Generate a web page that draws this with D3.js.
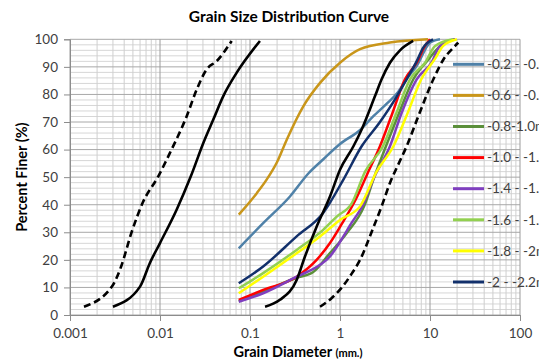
<!DOCTYPE html>
<html>
<head>
<meta charset="utf-8">
<script src="https://cdn.jsdelivr.net/npm/d3@7"></script>
<style>
  body { margin: 0; background: #fff; }
  svg { display: block; font-family: Lato, "Open Sans", sans-serif; }
</style>
</head>
<body>
<div id="chart"></div>
<script>
// grain diameter (mm) / percent finer (%) pairs
var sample02 = [[0.075,24.2],[0.14,33.3],[0.278,43],[0.45,51.5],[0.653,56.5],[1.0,62],[1.7,67.3],[2.35,72.1],[3.4,77],[4.45,81],[5.6,86],[7.1,90.3],[10,98.8],[12.9,100]];
var sample06 = [[0.075,36.4],[0.119,44.2],[0.153,49.1],[0.2,55.5],[0.256,63.6],[0.391,75.7],[0.6,84.2],[1.0,91.5],[1.67,96.4],[3.59,98.8],[9.5,100]];
var sample08 = [[0.075,5.0],[0.14,8.5],[0.33,13.5],[0.5,15.5],[0.77,22.4],[1.19,29.7],[1.85,39.4],[2.4,50],[3.24,61.2],[4.5,73],[6.53,85.5],[9.5,92.5],[13,97.6],[19,100]];
var sample10 = [[0.075,5.5],[0.14,9.1],[0.33,13.9],[0.55,20],[0.774,26.1],[1.09,34],[1.5,42],[2.0,51],[2.78,61.2],[3.8,73],[5.27,85.5],[7.12,91.5],[8.8,97.6],[10,100]];
var sample14 = [[0.075,4.8],[0.14,7.9],[0.33,13.9],[0.6,18.2],[0.77,21.2],[1.09,28.5],[1.29,32.5],[1.8,40],[2.4,50],[3.59,61.2],[4.8,73],[7.12,85.5],[10.4,91.5],[12.9,97.6],[19,100]];
var sample16 = [[0.075,9.7],[0.14,15.2],[0.33,23.6],[0.65,30.9],[0.92,35.7],[1.35,40.5],[1.9,52],[3.0,61.2],[4.2,73],[6.0,85.5],[8.8,91.5],[11.4,97.6],[18,100]];
var sample18 = [[0.075,7.9],[0.14,13.9],[0.33,22.4],[0.6,28.5],[1.0,34.5],[1.67,39.4],[2.55,52],[3.92,61.2],[5.6,73],[8.0,85.5],[11.4,93],[14,97.6],[19.9,100]];
var sample20 = [[0.075,11.5],[0.14,17.6],[0.33,28.5],[0.65,37],[1.09,49.1],[1.74,61.2],[2.78,70],[4.3,79.4],[5.5,85.5],[7.1,92],[8.4,97],[10.8,100]];

// envelope curves (black)
var leftDashed = [[0.00143,3.0],[0.0030,10.9],[0.0037,17.6],[0.0048,29.7],[0.0064,40.6],[0.00957,50.3],[0.0129,58.8],[0.0198,72.1],[0.0256,81.8],[0.033,89.1],[0.0427,92.1],[0.0626,99.4]];
var leftSolid = [[0.0030,3.0],[0.0060,10.3],[0.0077,18.8],[0.0100,26.1],[0.0153,38.2],[0.022,50.3],[0.0303,62.4],[0.0391,70.9],[0.0505,79.4],[0.0712,87.9],[0.129,99.4]];
var rightSolid = [[0.147,3.0],[0.215,5.5],[0.33,12.7],[0.408,21.2],[0.551,32.1],[0.774,43],[1.0,52.7],[1.41,61.2],[1.74,67.3],[2.45,79.4],[2.9,85.5],[3.59,91.5],[4.64,96],[6.5,99.4]];
var rightDashed = [[0.60,3.0],[0.80,6],[1.05,10],[1.35,15],[1.67,20],[2.3,31],[2.9,39.4],[3.6,48],[4.5,55],[5.5,61.2],[7.4,72],[10.9,85.5],[14,92.5],[19,97.6],[20.6,98.8]];

var seriesNames = ["-0.2 - -0.6m", "-0.6 - -0.8m", "-0.8-1.0m", "-1.0 - -1.4m", "-1.4 - -1.6m", "-1.6 - -1.8m", "-1.8 - -2m", "-2 - -2.2m"];
var seriesColors = ["#4f81a8", "#c9961a", "#5b8f3a", "#ff0000", "#7f3fbf", "#92d050", "#ffff00", "#12306b"];
var seriesData = [sample02, sample06, sample08, sample10, sample14, sample16, sample18, sample20];

var xTicks = [0.001, 0.01, 0.1, 1, 10, 100];
var xTickLabels = ["0.001", "0.01", "0.1", "1", "10", "100"];
var yTicks = [0, 10, 20, 30, 40, 50, 60, 70, 80, 90, 100];

var margin = { top: 39.3, right: 19, bottom: 46, left: 70 },
    width = 539 - margin.left - margin.right,
    height = 361 - margin.top - margin.bottom;

var x = d3.scaleLog().domain([0.001, 100]).range([0, width]);
var y = d3.scaleLinear().domain([0, 100]).range([height, 0]);

var svg = d3.select("#chart")
    .append("svg")
    .attr("width", 539)
    .attr("height", 361);

var g = svg.append("g")
    .attr("transform", "translate(" + margin.left + "," + margin.top + ")");

// minor grid
var minorX = [];
xTicks.slice(0, -1).forEach(function (d) {
    for (var k = 2; k <= 9; k++) minorX.push(d * k);
});
var minorY = d3.range(2, 100, 2).filter(function (d) { return d % 10 != 0; });

g.selectAll(".minorY").data(minorY).enter().append("line")
    .attr("x1", 0).attr("x2", width)
    .attr("y1", function (d) { return y(d); })
    .attr("y2", function (d) { return y(d); })
    .attr("stroke", "#d6d6d6");

g.selectAll(".minorX").data(minorX).enter().append("line")
    .attr("x1", function (d) { return x(d); })
    .attr("x2", function (d) { return x(d); })
    .attr("y1", 0).attr("y2", height)
    .attr("stroke", "#cfcfcf");

// major grid
g.selectAll(".majorY").data(yTicks).enter().append("line")
    .attr("x1", 0).attr("x2", width)
    .attr("y1", function (d) { return y(d); })
    .attr("y2", function (d) { return y(d); })
    .attr("stroke", "#a8a8a8");

g.selectAll(".majorX").data(xTicks).enter().append("line")
    .attr("x1", function (d) { return x(d); })
    .attr("x2", function (d) { return x(d); })
    .attr("y1", 0).attr("y2", height)
    .attr("stroke", "#9c9c9c");

// axes
var yAxis = g.append("g")
    .call(d3.axisLeft(y).tickValues(yTicks).tickSize(6).tickPadding(6));
var xAxis = g.append("g")
    .attr("transform", "translate(0," + height + ")")
    .call(d3.axisBottom(x).tickValues(xTicks).tickSize(6).tickPadding(7)
        .tickFormat(function (d, i) { return xTickLabels[i]; }));

[xAxis, yAxis].forEach(function (a) {
    a.select(".domain").attr("stroke", "#8c8c8c");
    a.selectAll(".tick line").attr("stroke", "#8c8c8c");
    a.selectAll(".tick text")
        .attr("fill", "#404040")
        .style("font-size", "13.5px")
        .style("font-family", "Lato, sans-serif");
});

var line = d3.line()
    .x(function (d) { return x(d[0]); })
    .y(function (d) { return y(d[1]); })
    .curve(d3.curveMonotoneX);

// coloured sample curves
seriesData.forEach(function (s, i) {
    g.append("path")
        .datum(s)
        .attr("fill", "none")
        .attr("stroke", seriesColors[i])
        .attr("stroke-width", 2.5)
        .attr("d", line);
});

// black envelope curves
[leftDashed, leftSolid, rightSolid, rightDashed].forEach(function (s, i) {
    g.append("path")
        .datum(s)
        .attr("fill", "none")
        .attr("stroke", "#000")
        .attr("stroke-width", 2.6)
        .attr("stroke-dasharray", i == 0 || i == 3 ? "7,4" : null)
        .attr("d", line);
});

// legend (runs past the right edge, as in the original)
var legend = svg.append("g")
    .selectAll("g")
    .data(seriesNames)
    .enter()
    .append("g")
    .attr("transform", function (d, i) {
        return "translate(453," + (64.3 + i * 31.1) + ")";
    });

legend.append("line")
    .attr("x1", 0).attr("x2", 31)
    .attr("stroke", function (d, i) { return seriesColors[i]; })
    .attr("stroke-width", 3);

legend.append("text")
    .attr("x", 34)
    .attr("dy", "0.35em")
    .attr("fill", "#404040")
    .style("font-size", "13.6px")
    .text(function (d) { return d; });

// titles
svg.append("text")
    .attr("x", margin.left + width / 2 - 6)
    .attr("y", 22)
    .attr("text-anchor", "middle")
    .attr("font-weight", "bold")
    .attr("font-size", "15.5px")
    .attr("fill", "#000")
    .text("Grain Size Distribution Curve");

svg.append("text")
    .attr("transform", "translate(27," + (margin.top + height / 2) + ") rotate(-90)")
    .attr("text-anchor", "middle")
    .attr("font-weight", "bold")
    .attr("font-size", "14.5px")
    .attr("fill", "#000")
    .text("Percent Finer (%)");

var xLabel = svg.append("text")
    .attr("x", margin.left + width / 2 + 3)
    .attr("y", 357)
    .attr("text-anchor", "middle")
    .attr("font-weight", "bold")
    .attr("fill", "#000");
xLabel.append("tspan").attr("font-size", "14.5px").text("Grain Diameter ");
xLabel.append("tspan").attr("font-size", "11px").text("(mm.)");
</script>
</body>
</html>
